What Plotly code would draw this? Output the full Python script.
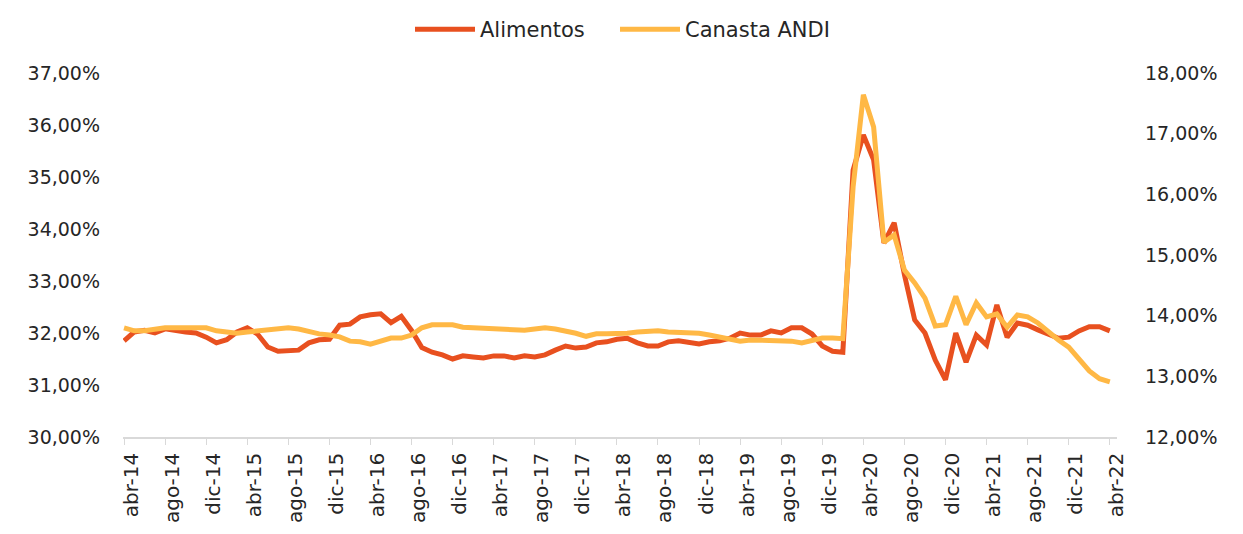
import plotly.graph_objects as go

months = ["ene", "feb", "mar", "abr", "may", "jun", "jul", "ago", "sep", "oct", "nov", "dic"]
# monthly categories abr-14 .. abr-22
categories = []
m, yr = 3, 14
for _ in range(97):
    categories.append(f"{months[m]}-{yr:02d}")
    m += 1
    if m == 12:
        m, yr = 0, yr + 1

alimentos = [
    31.85, 32.02, 32.05, 32.00, 32.08, 32.04, 32.02, 32.00, 31.92, 31.81,
    31.87, 32.02, 32.10, 31.98, 31.73, 31.65, 31.65, 31.67, 31.81, 31.87,
    31.88, 32.15, 32.17, 32.31, 32.35, 32.37, 32.20, 32.32, 32.05, 31.72,
    31.63, 31.58, 31.50, 31.56, 31.54, 31.52, 31.56, 31.56, 31.52, 31.56,
    31.54, 31.58, 31.67, 31.75, 31.71, 31.73, 31.81, 31.83, 31.88, 31.90,
    31.81, 31.75, 31.75, 31.83, 31.85, 31.83, 31.79, 31.83, 31.85, 31.90,
    32.00, 31.96, 31.96, 32.04, 32.00, 32.10, 32.10, 31.98, 31.75, 31.65,
    31.63, 35.13, 35.81, 35.33, 33.73, 34.12, 33.12, 32.25, 32.00, 31.48,
    31.10, 32.00, 31.44, 31.96, 31.77, 32.54, 31.92, 32.19, 32.15, 32.06,
    31.98, 31.90, 31.92, 32.04, 32.12, 32.12, 32.04,
]

canasta_andi = [
    13.80, 13.75, 13.75, 13.78, 13.80, 13.80, 13.80, 13.81, 13.80, 13.75,
    13.73, 13.71, 13.73, 13.75, 13.76, 13.78, 13.80, 13.78, 13.73, 13.70,
    13.68, 13.65, 13.58, 13.57, 13.53, 13.58, 13.63, 13.63, 13.68, 13.80,
    13.85, 13.85, 13.85, 13.81, 13.80, 13.80, 13.78, 13.76, 13.75, 13.76,
    13.78, 13.80, 13.78, 13.75, 13.71, 13.66, 13.70, 13.70, 13.70, 13.71,
    13.73, 13.75, 13.75, 13.73, 13.73, 13.71, 13.71, 13.68, 13.65, 13.62,
    13.58, 13.60, 13.60, 13.60, 13.60, 13.58, 13.55, 13.58, 13.63, 13.63,
    13.62, 16.12, 17.64, 17.11, 15.21, 15.33, 14.75, 14.54, 14.29, 13.83,
    13.85, 14.32, 13.85, 14.21, 13.98, 14.03, 13.81, 14.01, 13.98, 13.88,
    13.73, 13.60, 13.48, 13.29, 13.09, 12.96, 12.91,
]

left_ticks = [30, 31, 32, 33, 34, 35, 36, 37]
right_ticks = [12, 13, 14, 15, 16, 17, 18]

x_idx = list(range(len(categories)))
tick_idx = x_idx[::4]
tick_text = [categories[i] for i in tick_idx]

FONT = "'DejaVu Sans', sans-serif"
TXT = "#262626"

fig = go.Figure()
fig.add_trace(go.Scatter(
    x=x_idx, y=alimentos, name="Alimentos", mode="lines",
    line=dict(color="#E8501F", width=5), yaxis="y", legend="legend",
))
fig.add_trace(go.Scatter(
    x=x_idx, y=canasta_andi, name="Canasta ANDI", mode="lines",
    line=dict(color="#FFB845", width=5), yaxis="y2", legend="legend2",
))

legend_common = dict(orientation="h", xanchor="left",
                     y=1 + 64 / 364, yanchor="top",
                     font=dict(size=21, color=TXT), itemwidth=60)

# page body has an 8px margin: figure is sized to fit inside the window
fig.update_layout(
    width=1227, height=518,
    margin=dict(l=115, r=118, t=65, b=89, autoexpand=False),
    paper_bgcolor="white", plot_bgcolor="white",
    separators=",.",
    font=dict(family=FONT, size=19, color=TXT),
    showlegend=True,
    legend=dict(x=(402 - 115) / 994, **legend_common),
    legend2=dict(x=(607 - 115) / 994, **legend_common),
    xaxis=dict(
        range=[-0.1, 96.7], tickmode="array", tickvals=tick_idx, ticktext=tick_text,
        tickangle=-90, showgrid=False, zeroline=False,
        showline=True, linecolor="#D9D9D9", linewidth=1.5,
        ticks="outside", tickcolor="#D9D9D9", ticklen=6,
        tickfont=dict(size=20, color=TXT), ticklabelshift=7, ticklabelstandoff=0,
        automargin=False,
    ),
    yaxis=dict(
        range=[30, 37], tickmode="array", tickvals=left_ticks,
        ticktext=[f"{v},00%" for v in left_ticks],
        showgrid=False, zeroline=False, showline=False,
        tickfont=dict(size=19, color=TXT), ticks="", ticklabelstandoff=22,
        automargin=False,
    ),
    yaxis2=dict(
        range=[12, 18], tickmode="array", tickvals=right_ticks,
        ticktext=[f"{v},00%" for v in right_ticks],
        overlaying="y", side="right",
        showgrid=False, zeroline=False, showline=False,
        tickfont=dict(size=19, color=TXT), ticks="", ticklabelstandoff=27,
        automargin=False,
    ),
)

fig.write_html("out.html")
